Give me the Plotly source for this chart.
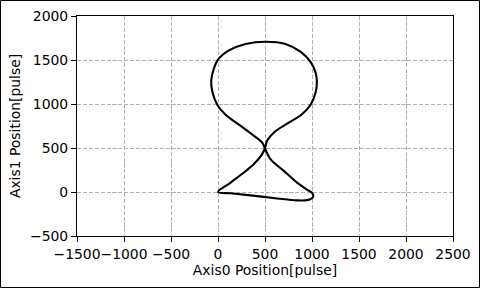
import plotly.graph_objects as go

# Trajectory (Axis0, Axis1 positions in pulses)
axis0_pos = [0, 134, 346, 629, 841, 950, 1000, 1014, 1000, 955, 841, 700, 558, 503,
             470, 364, 223, 81, -7, -60, -72, -45, -7, 46, 117, 293, 505, 717, 884, 990,
             1040, 1052, 1040, 990, 890, 740, 610, 527, 497, 470, 382, 276, 134, 0]
axis1_pos = [0, -15, -38, -73, -95, -92, -72, -42, -10, 22, 107, 240, 374, 485,
             560, 653, 765, 877, 989, 1138, 1270, 1399, 1493, 1556, 1610, 1682, 1708, 1682, 1590, 1470,
             1350, 1250, 1138, 1000, 880, 780, 690, 590, 490, 431, 317, 221, 107, 0]

x_ticks = [-1500, -1000, -500, 0, 500, 1000, 1500, 2000, 2500]
y_ticks = [-500, 0, 500, 1000, 1500, 2000]

FONT = "DejaVu Sans"
FS = 13.9

fig = go.Figure()
fig.add_trace(go.Scatter(
    x=axis0_pos, y=axis1_pos, mode="lines",
    line=dict(color="black", width=2.1, shape="spline", smoothing=1.0),
    showlegend=False, hoverinfo="skip",
))

axis_common = dict(
    showline=True, linecolor="black", linewidth=1.1, mirror=True,
    ticks="outside", ticklen=5, tickwidth=1.1, tickcolor="black",
    showgrid=True, gridcolor="#b0b0b0", gridwidth=1.1, griddash="4.1px,1.8px",
    zeroline=False, tickfont=dict(family=FONT, size=FS, color="black"),
    tickangle=0, automargin=False,
)

fig.update_xaxes(range=[-1500, 2500], tickvals=x_ticks,
                 title=dict(text="Axis0 Position[pulse]", font=dict(family=FONT, size=FS, color="black"), standoff=4),
                 **axis_common)
fig.update_yaxes(range=[-500, 2000], tickvals=y_ticks,
                 title=dict(text="Axis1 Position[pulse]", font=dict(family=FONT, size=FS, color="black"), standoff=6),
                 **axis_common)

L, R, T, B = 77, 27, 16, 52
W, H = 480, 288
pw, ph = W - L - R, H - T - B
fig.add_shape(type="rect", xref="paper", yref="paper",
              x0=(-L + 0.5) / pw, x1=(W - L - 0.5) / pw,
              y0=(-B + 0.5) / ph, y1=(H - B - 0.5) / ph,
              line=dict(color="black", width=1), fillcolor="rgba(0,0,0,0)", layer="above")

fig.update_layout(
    width=W, height=H,
    margin=dict(l=L, r=R, t=T, b=B, pad=0, autoexpand=False),
    paper_bgcolor="white", plot_bgcolor="white",
    font=dict(family=FONT, size=FS, color="black"),
)

fig.write_html("out.html", config={"displayModeBar": False})
